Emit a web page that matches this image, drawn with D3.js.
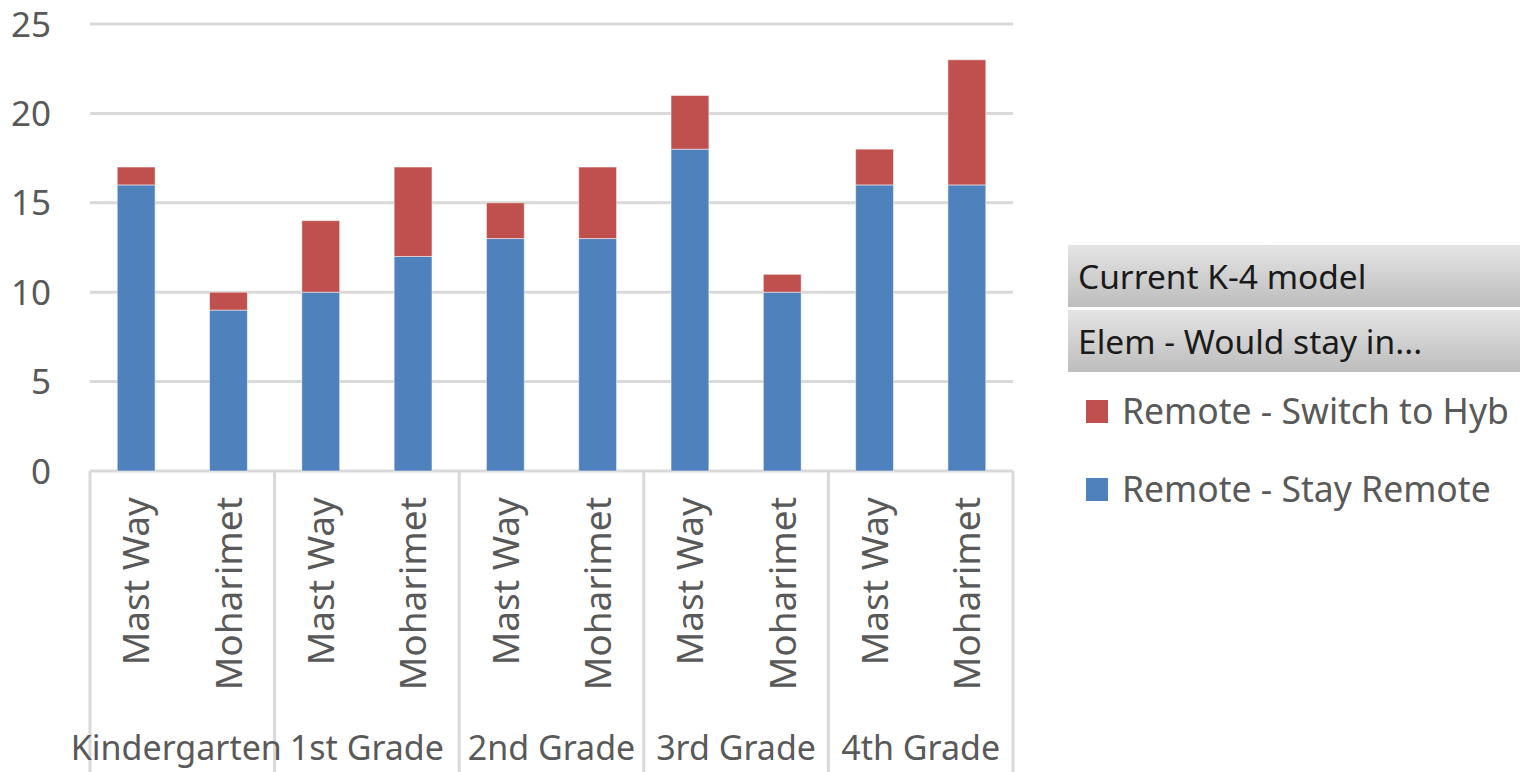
<!DOCTYPE html>
<html>
<head>
<meta charset="utf-8">
<script src="https://cdn.jsdelivr.net/npm/d3@7"></script>
<style>
  body { margin: 0; background: #fff; overflow: hidden; }
  text { font-family: "Noto Sans", "Open Sans", sans-serif; }
</style>
</head>
<body>
<svg id="chart"></svg>
<script>
// grades along the outer axis, schools inside each grade
var grades = ["Kindergarten", "1st Grade", "2nd Grade", "3rd Grade", "4th Grade"];
var schools = ["Mast Way", "Moharimet"];

// values per grade/school, in order K Mast Way, K Moharimet, 1st Mast Way, ...
var stayRemote   = [16, 9, 10, 12, 13, 13, 18, 10, 16, 16];
var switchHybrid = [1, 1, 4, 5, 2, 4, 3, 1, 2, 7];

var yTicks = [0, 5, 10, 15, 20, 25];

// legend text as it shows in the chart (the hybrid one is cut short there)
var legendLabels = ["Remote - Switch to Hyb", "Remote - Stay Remote"];
var filterLabels = ["Current K-4 model", "Elem - Would stay in..."];

var config = {
  w: 1520,
  h: 772,
  left: 90,
  right: 1013,
  top: 24,
  bottom: 471
};

var blue = "#4f81bd";
var red = "#c0504d";
var gridColor = "#d9d9d9";
var textColor = "#595959";

// build rows for stacking
var rows = [];
grades.forEach(function(g, i) {
  schools.forEach(function(s, j) {
    var k = i * schools.length + j;
    rows.push({ grade: g, school: s, stay: stayRemote[k], hybrid: switchHybrid[k] });
  });
});

var stack = d3.stack().keys(["stay", "hybrid"]);
var series = stack(rows);

var svg = d3.select("#chart")
  .attr("width", config.w)
  .attr("height", config.h);

var x0 = d3.scaleBand()
  .domain(grades)
  .range([config.left, config.right])
  .padding(0);

var x1 = d3.scaleBand()
  .domain(schools)
  .range([0, x0.bandwidth()])
  .paddingInner(0.59)
  .paddingOuter(0.295);

var y = d3.scaleLinear()
  .domain([0, 25])
  .range([config.bottom, config.top]);

// gridlines
svg.append("g")
  .selectAll("line")
  .data(yTicks)
  .enter()
  .append("line")
    .attr("x1", config.left)
    .attr("x2", config.right)
    .attr("y1", function(d) { return y(d); })
    .attr("y2", function(d) { return y(d); })
    .attr("stroke", gridColor)
    .attr("stroke-width", 3);

// y tick labels
svg.append("g")
  .selectAll("text")
  .data(yTicks)
  .enter()
  .append("text")
    .attr("x", 51)
    .attr("y", function(d) { return y(d); })
    .attr("dy", "0.36em")
    .attr("text-anchor", "end")
    .attr("fill", textColor)
    .style("font-size", "35px")
    .text(function(d) { return d; });

// bars
var colors = { stay: blue, hybrid: red };
svg.append("g")
  .selectAll("g")
  .data(series)
  .enter()
  .append("g")
    .attr("fill", function(d) { return colors[d.key]; })
  .selectAll("rect")
  .data(function(d) { return d; })
  .enter()
  .append("rect")
    .attr("x", function(d) { return x0(d.data.grade) + x1(d.data.school); })
    .attr("width", x1.bandwidth())
    .attr("y", function(d) { return y(d[1]); })
    .attr("height", function(d) { return y(d[0]) - y(d[1]); })
    .attr("stroke", "#ffffff")
    .attr("stroke-opacity", 0.5)
    .attr("stroke-width", 1);

// category divider lines
var dividers = grades.map(function(g) { return x0(g); }).concat([config.right]);
svg.append("g")
  .selectAll("line")
  .data(dividers)
  .enter()
  .append("line")
    .attr("x1", function(d) { return d; })
    .attr("x2", function(d) { return d; })
    .attr("y1", config.bottom)
    .attr("y2", config.h)
    .attr("stroke", gridColor)
    .attr("stroke-width", 3);

// school labels, rotated
svg.append("g")
  .selectAll("text")
  .data(rows)
  .enter()
  .append("text")
    .attr("transform", function(d) {
      var cx = x0(d.grade) + x1(d.school) + x1.bandwidth() / 2;
      return "translate(" + cx + "," + 497 + ") rotate(-90)";
    })
    .attr("dy", "0.36em")
    .attr("text-anchor", "end")
    .attr("fill", textColor)
    .style("font-size", "37px")
    .text(function(d) { return d.school; });

// grade labels
svg.append("g")
  .selectAll("text")
  .data(grades)
  .enter()
  .append("text")
    .attr("x", function(d) { return x0(d) + x0.bandwidth() / 2 - (d === "Kindergarten" ? 6 : 0); })
    .attr("y", 760)
    .attr("text-anchor", "middle")
    .attr("fill", textColor)
    .style("font-size", "34px")
    .text(function(d) { return d; });

// filter buttons in legend area
var defs = svg.append("defs");
var grad = defs.append("linearGradient")
  .attr("id", "btn")
  .attr("x1", 0).attr("y1", 0).attr("x2", 0).attr("y2", 1);
grad.append("stop").attr("offset", "0%").attr("stop-color", "#e4e4e4");
grad.append("stop").attr("offset", "100%").attr("stop-color", "#bdbdbd");

var btn = svg.append("g")
  .selectAll("g")
  .data(filterLabels)
  .enter()
  .append("g")
    .attr("transform", function(d, i) { return "translate(1068," + (245 + i * 65) + ")"; });

btn.append("rect")
  .attr("width", 460)
  .attr("height", 62)
  .attr("fill", "url(#btn)");

btn.append("text")
  .attr("x", 10)
  .attr("y", 44)
  .attr("fill", "#1a1a1a")
  .style("font-size", "33.5px")
  .text(function(d) { return d; });

// series legend, hybrid first
var legendColors = [red, blue];

var leg = svg.append("g")
  .selectAll("g")
  .data(legendLabels)
  .enter()
  .append("g")
    .attr("transform", function(d, i) { return "translate(1086," + (400 + i * 78) + ")"; });

leg.append("rect")
  .attr("width", 22)
  .attr("height", 23)
  .attr("fill", function(d, i) { return legendColors[i]; });

leg.append("text")
  .attr("x", 36)
  .attr("y", 24)
  .attr("fill", textColor)
  .style("font-size", "35.5px")
  .text(function(d) { return d; });
</script>
</body>
</html>
